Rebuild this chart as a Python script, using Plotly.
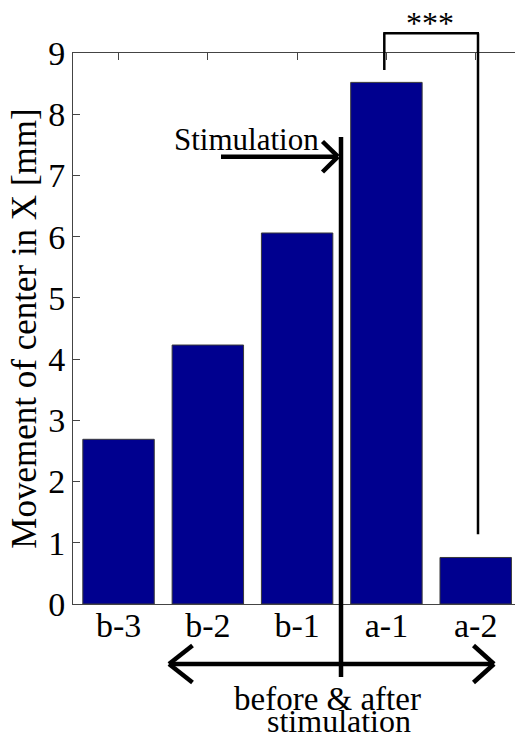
import plotly.graph_objects as go

# ---- data ----
categories = ["b-3", "b-2", "b-1", "a-1", "a-2"]
movement = [2.69, 4.23, 6.06, 8.52, 0.76]
y_ticks = [0, 1, 2, 3, 4, 5, 6, 7, 8, 9]

W, H = 515, 740
ML, MR, MT, MB = 73, 0, 53, 136
PW, PH = W - ML - MR, H - MT - MB

def px(x):
    return (x - ML) / PW

def py(y):
    return (H - MB - y) / PH

FONT = "Times New Roman, Liberation Serif, serif"
BAR = "#00008F"

fig = go.Figure()
fig.add_trace(go.Bar(
    x=categories, y=movement,
    marker=dict(color=BAR, line=dict(color="#3a3a3a", width=1)),
    width=0.8,
))

shapes = []
def seg(x0, y0, x1, y1, w):
    shapes.append(dict(type="line", xref="paper", yref="paper",
                       x0=px(x0), y0=py(y0), x1=px(x1), y1=py(y1),
                       line=dict(color="black", width=w)))

# stimulation vertical line
seg(341, 137, 341, 677, 4.5)
# stimulation arrow
seg(221, 156.7, 337, 156.7, 4.5)
seg(322.5, 141.5, 338, 156.7, 4.5)
seg(322.5, 172, 338, 156.7, 4.5)
# bottom double arrow
seg(169, 664, 494, 664, 4.5)
seg(192.5, 645.5, 169, 664, 4.5)
seg(192.5, 682.5, 169, 664, 4.5)
seg(473.5, 645.5, 494, 664, 4.5)
seg(473.5, 682.5, 494, 664, 4.5)
# significance bracket
seg(384.3, 33.3, 384.3, 70, 2.5)
seg(383.2, 33.3, 479, 33.3, 2.5)
seg(478, 33.3, 478, 534.3, 2.5)

annotations = [
    dict(text="Stimulation", x=px(246), y=py(139.5), xref="paper", yref="paper",
         showarrow=False, xanchor="center", yanchor="middle",
         font=dict(family=FONT, size=31, color="black")),
    dict(text="before &amp; after", x=px(327.5), y=py(699), xref="paper", yref="paper",
         showarrow=False, xanchor="center", yanchor="middle",
         font=dict(family=FONT, size=33, color="black")),
    dict(text="stimulation", x=px(339), y=py(721), xref="paper", yref="paper",
         showarrow=False, xanchor="center", yanchor="middle",
         font=dict(family=FONT, size=32, color="black")),
    dict(text="***", x=px(430), y=py(23), xref="paper", yref="paper",
         showarrow=False, xanchor="center", yanchor="middle",
         font=dict(family=FONT, size=32, color="black")),
]

fig.update_layout(
    width=W, height=H,
    margin=dict(l=ML, r=MR, t=MT, b=MB, autoexpand=False),
    paper_bgcolor="white", plot_bgcolor="white",
    showlegend=False,
    shapes=shapes,
    annotations=annotations,
    font=dict(family=FONT, color="black"),
)
fig.update_xaxes(
    type="category", range=[-0.51, 4.44],
    showline=True, linecolor="#444", linewidth=1, mirror="ticks",
    ticks="inside", ticklen=7, tickcolor="#444",
    tickfont=dict(family=FONT, size=34, color="black"),
    ticklabelstandoff=-9,
    showgrid=False, zeroline=False, layer="below traces",
)
fig.update_yaxes(
    range=[0, 9], tickvals=y_ticks,
    showline=True, linecolor="#444", linewidth=1,
    ticks="inside", ticklen=7, tickcolor="#444",
    tickfont=dict(family=FONT, size=34, color="black"),
    showgrid=False, zeroline=False, layer="below traces",
    title=dict(text="Movement of center in X [mm]",
               font=dict(family=FONT, size=35, color="black"), standoff=0),
)

fig.write_html("out.html")
